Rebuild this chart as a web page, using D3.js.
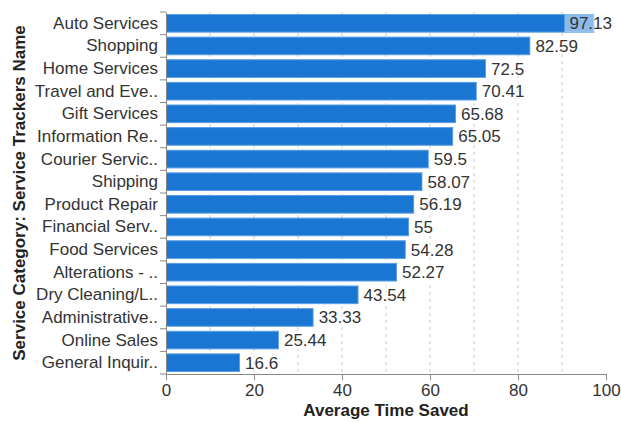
<!DOCTYPE html>
<html>
<head>
<meta charset="utf-8">
<script src="https://cdn.jsdelivr.net/npm/d3@7"></script>
<style>
  body { margin: 0; background: #fff; }
  text { font-family: "Liberation Sans", Arial, sans-serif; }
</style>
</head>
<body>
<div id="chart"></div>
<script>
// Data
var categories = ["Auto Services", "Shopping", "Home Services", "Travel and Eve..", "Gift Services",
  "Information Re..", "Courier Servic..", "Shipping", "Product Repair", "Financial Serv..",
  "Food Services", "Alterations - ..", "Dry Cleaning/L..", "Administrative..", "Online Sales",
  "General Inquir.."];
var values = [97.13, 82.59, 72.5, 70.41, 65.68, 65.05, 59.5, 58.07, 56.19, 55, 54.28, 52.27,
  43.54, 33.33, 25.44, 16.6];
var xTicks = [0, 20, 40, 60, 80, 100];
var xGrid = [10, 20, 30, 40, 50, 60, 70, 80, 90];

var svgWidth = 621;
var svgHeight = 422;
var margin = { top: 12, right: 15, bottom: 48, left: 166 };
var width = svgWidth - margin.left - margin.right;
var height = svgHeight - margin.top - margin.bottom;

var svg = d3.select("#chart")
  .append("svg")
  .attr("width", svgWidth)
  .attr("height", svgHeight);

var chartGroup = svg.append("g")
  .attr("transform", `translate(${margin.left}, ${margin.top})`);

// Scales
var xScale = d3.scaleLinear().domain([0, 100]).range([0, width]);
var yScale = d3.scaleBand()
  .domain(categories)
  .range([0, height])
  .paddingInner(0.22)
  .paddingOuter(0.11);

// Grid lines
chartGroup.selectAll(".grid")
  .data(xGrid)
  .enter()
  .append("line")
  .attr("x1", d => xScale(d))
  .attr("x2", d => xScale(d))
  .attr("y1", 0)
  .attr("y2", height)
  .attr("stroke", "#c8c8c8")
  .attr("stroke-dasharray", "3,4");

// Bars
chartGroup.selectAll(".bar")
  .data(values)
  .enter()
  .append("rect")
  .attr("x", xScale(0) + 0.5)
  .attr("y", (d, i) => yScale(categories[i]))
  .attr("width", d => xScale(d) - xScale(0))
  .attr("height", yScale.bandwidth())
  .attr("fill", "#1976d2")
  .attr("stroke", "#5a9ee3")
  .attr("stroke-width", 1);

// Value labels, kept inside the picture
var labels = chartGroup.selectAll(".val")
  .data(values)
  .enter()
  .append("g");

labels.each(function(d, i) {
  var g = d3.select(this);
  var t = g.append("text")
    .attr("y", yScale(categories[i]) + yScale.bandwidth() / 2)
    .attr("dy", "0.35em")
    .attr("fill", "#333")
    .style("font-size", "17px")
    .text(d);
  var w = t.node().getComputedTextLength();
  var x = xScale(d) + 6;
  var maxRight = svgWidth - margin.left - 9;
  if (x + w > maxRight) x = maxRight - w;
  t.attr("x", x);
  g.insert("rect", "text")
    .attr("x", x - 5)
    .attr("y", yScale(categories[i]))
    .attr("width", w + 8)
    .attr("height", yScale.bandwidth())
    .attr("fill", "#fff")
    .attr("opacity", 0.5);
});

// Y axis
var leftAxis = d3.axisLeft(yScale).tickSize(0).tickPadding(8);
var yAxisG = chartGroup.append("g").call(leftAxis);
yAxisG.select(".domain").attr("stroke", "#888");
yAxisG.selectAll("text")
  .attr("fill", "#333")
  .style("font-size", "17px")
  .style("font-family", "'Liberation Sans', Arial, sans-serif");

// boundary ticks between categories
chartGroup.selectAll(".ytick")
  .data(d3.range(categories.length + 1))
  .enter()
  .append("line")
  .attr("x1", -6)
  .attr("x2", 0)
  .attr("y1", i => i * yScale.step())
  .attr("y2", i => i * yScale.step())
  .attr("stroke", "#888");

// X axis
var bottomAxis = d3.axisBottom(xScale).tickValues(xTicks).tickSize(6).tickPadding(4);
var xAxisG = chartGroup.append("g")
  .attr("transform", `translate(0, ${height})`)
  .call(bottomAxis);
xAxisG.select(".domain").attr("stroke", "#888");
xAxisG.selectAll("line").attr("stroke", "#888");
xAxisG.selectAll("text")
  .attr("fill", "#333")
  .style("font-size", "17px")
  .style("font-family", "'Liberation Sans', Arial, sans-serif");

// Axis titles
chartGroup.append("text")
  .attr("transform", `translate(${width / 2}, ${height + 42})`)
  .attr("text-anchor", "middle")
  .attr("fill", "#222")
  .style("font-size", "17px")
  .style("font-weight", "bold")
  .text("Average Time Saved");

svg.append("text")
  .attr("transform", `translate(25, ${margin.top + height / 2}) rotate(-90)`)
  .attr("text-anchor", "middle")
  .attr("fill", "#222")
  .style("font-size", "17px")
  .style("font-weight", "bold")
  .text("Service Category: Service Trackers Name");
</script>
</body>
</html>
